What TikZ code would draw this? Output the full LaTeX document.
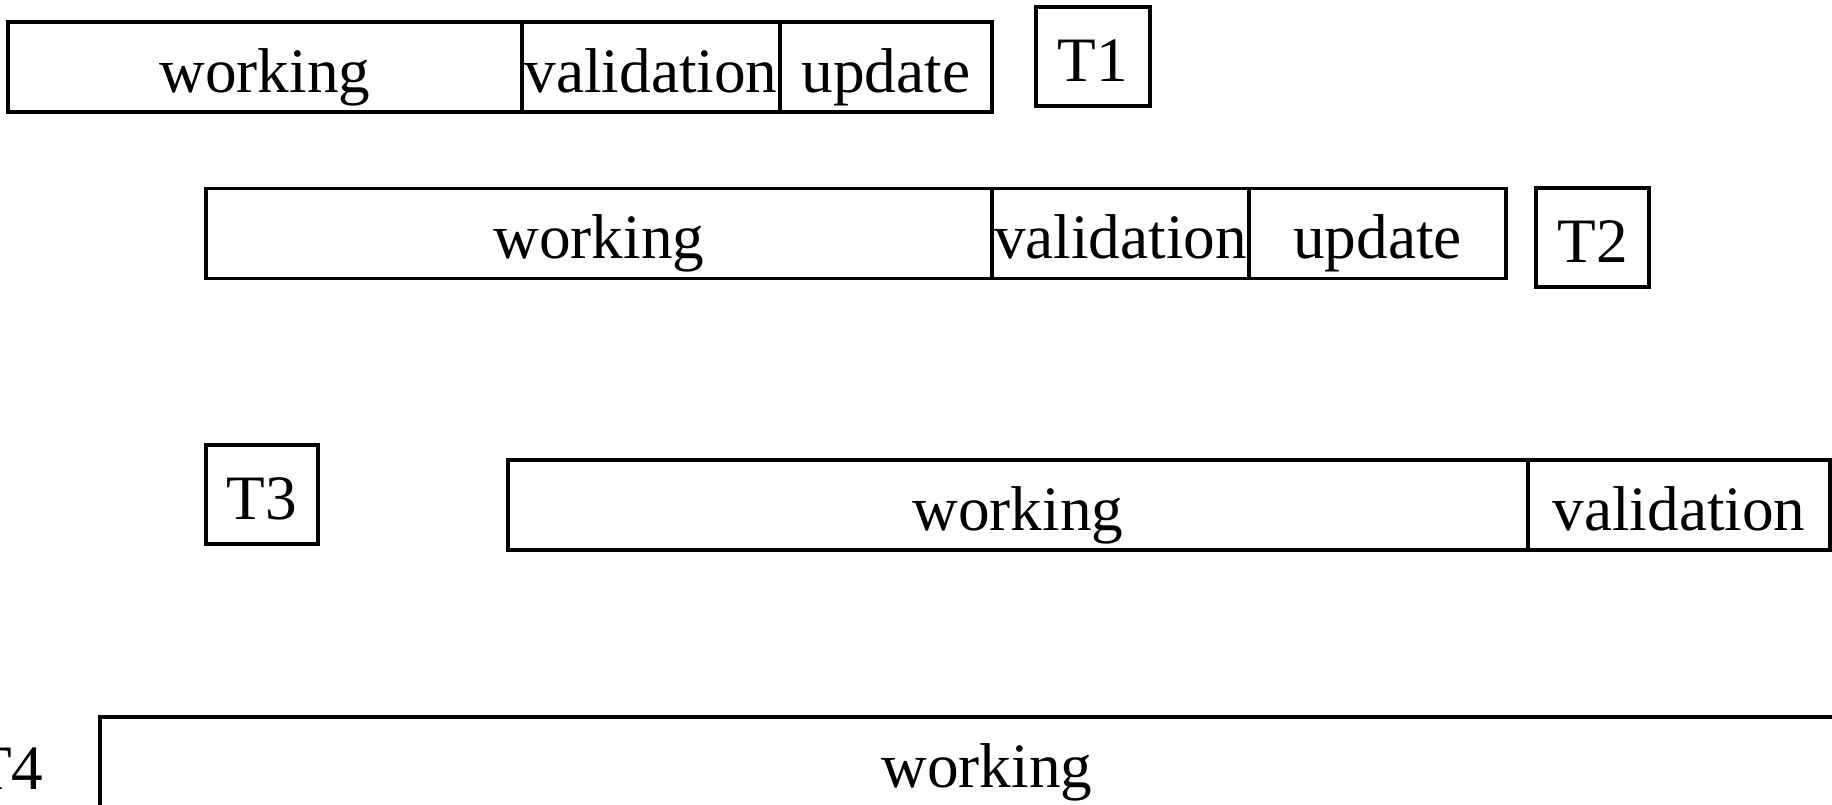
\documentclass[tikz,border=0pt]{standalone}
\usepackage{fontspec}
\setmainfont{Liberation Serif}
\usepackage{tikz}
\usetikzlibrary{positioning}

\tikzset{
  phase/.style={draw, line width=1pt, inner sep=0pt, outer sep=0pt,
    minimum height=0.90cm, text height=0.62cm, text depth=0.12cm,
    font=\fontsize{18}{20}\selectfont},
  tbox/.style={phase, minimum height=0.99cm},
}

\begin{document}
\begin{tikzpicture}
\clip (0,0) rectangle (18.32,-8.05);

% T1
\node[phase, anchor=west, minimum width=5.14cm] (work1) at (0.08,-0.67) {working};
\node[phase, right=0pt of work1, minimum width=2.58cm] (val1) {validation};
\node[phase, right=0pt of val1, minimum width=2.12cm] (upd1) {update};
\node[tbox, minimum width=1.14cm] (t1) at (10.93,-0.565) {T1};

% T2
\node[phase, anchor=west, minimum width=7.86cm] (work2) at (2.06,-2.335) {working};
\node[phase, right=0pt of work2, minimum width=2.57cm] (val2) {validation};
\node[phase, right=0pt of val2, minimum width=2.57cm] (upd2) {update};
\node[tbox, minimum width=1.13cm] (t2) at (15.925,-2.375) {T2};

% T3
\node[tbox, minimum width=1.12cm] (t3) at (2.62,-4.945) {T3};
\node[phase, anchor=west, minimum width=10.20cm] (work3) at (5.08,-5.05) {working};
\node[phase, right=0pt of work3, minimum width=3.02cm] (val3) {validation};

% T4
\node[anchor=base east, inner sep=0pt, font=\fontsize{18}{20}\selectfont] (t4) at (0.44,-7.89) {T4};
\node[phase, anchor=west, minimum width=17.74cm] (work4) at (1.00,-7.62) {working};
\end{tikzpicture}
\end{document}
